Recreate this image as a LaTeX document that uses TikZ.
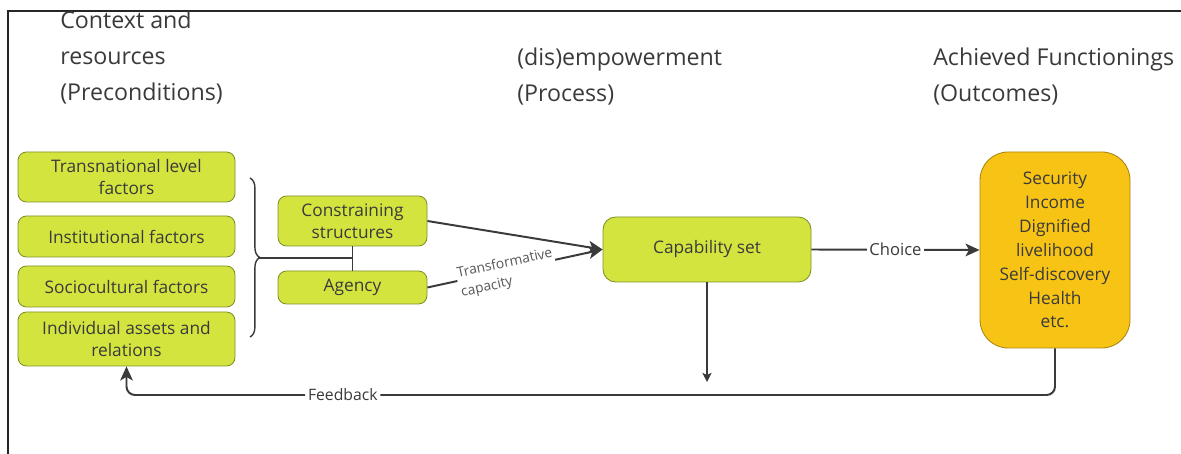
\documentclass[tikz,border=0pt]{standalone}
\usepackage{fontspec}
\setmainfont{Open Sans}
\usetikzlibrary{arrows.meta,positioning,decorations.pathreplacing}
\definecolor{capgreen}{HTML}{D4E43F}
\definecolor{capgreenline}{HTML}{7F8F2A}
\definecolor{outamber}{HTML}{F7C415}
\definecolor{outamberline}{HTML}{A8850F}
\definecolor{inkgray}{HTML}{3A3A3A}

\begin{document}
\begin{tikzpicture}[
    factor/.style={rectangle, rounded corners=6pt, draw=capgreenline, fill=capgreen,
                   line width=0.6pt, minimum width=5.425cm, align=center, text=inkgray,
                   inner sep=0pt, font=\fontsize{12.3}{15.6}\selectfont},
    heading/.style={anchor=north west, align=left, inner sep=0pt, text=inkgray,
                    font=\fontsize{16.5}{25.8}\selectfont},
    lbl/.style={fill=white, text=inkgray, inner sep=2pt},
    arr/.style={-{Stealth[length=10pt, width=9pt, inset=2.5pt]}, line width=1.4pt, draw=inkgray},
    thinarr/.style={-{Stealth[length=6.5pt, width=6.5pt, inset=1.5pt]}, line width=0.8pt, draw=inkgray}
  ]

  \useasboundingbox (0,0) rectangle (29.525,11.35);

  % ---- Frame (left and top edges only) ----
  \draw[line width=1.8pt, black!85] (0.2,0) -- (0.2,11.075) -- (29.525,11.075);

  % ---- Column headings ----
  \node[heading] (hpre) at (1.5,11.09) {Context and\\resources\\(Preconditions)};
  \node[heading] (hproc) at (12.925,10.17) {(dis)empowerment\\(Process)};
  \node[heading] (hout) at (23.325,10.17) {Achieved Functionings\\(Outcomes)};

  % ---- Preconditions: four factor boxes ----
  \node[factor, minimum height=1.25cm]  (trans) at (3.1625,6.925)  {Transnational level\\factors};
  \node[factor, minimum height=1.025cm] (inst)  at (3.1625,5.4375) {Institutional factors};
  \node[factor, minimum height=1.025cm] (socio) at (3.1625,4.1875) {Sociocultural factors};
  \node[factor, minimum height=1.35cm]  (indiv) at (3.1625,2.875)  {Individual assets and\\relations};

  % ---- Brace grouping the factors ----
  \draw[line width=1pt, inkgray, decorate, decoration={brace, amplitude=7pt}]
    (6.25,6.9) -- (6.25,2.925);
  \coordinate (bracetip) at (6.46,4.9);

  % ---- Process: structures and agency ----
  \node[factor, minimum width=3.725cm, minimum height=1.25cm]
    (cons) at (8.8125,5.825) {Constraining\\structures};
  \node[factor, minimum width=3.725cm, minimum height=0.825cm]
    (agency) at (8.8125,4.1625) {Agency};

  \draw[line width=1pt, inkgray] (cons.south) -- (agency.north);
  \draw[line width=1pt, inkgray] (bracetip) -- (bracetip -| cons.south);

  % ---- Capability set ----
  \node[factor, rounded corners=9pt, minimum width=5.2cm, minimum height=1.625cm]
    (capset) at (17.675,5.1125) {Capability set};

  \draw[arr] (cons.east) -- (capset.west);
  \draw[arr] (agency.east) -- node[lbl, sloped, pos=0.45, yshift=-2pt, align=left, inner sep=1pt,
      font=\fontsize{9.8}{13.8}\selectfont, text=inkgray!85] {Transformative\\capacity} (capset.west);

  % ---- Outcomes ----
  \node[rectangle, rounded corners=20pt, draw=outamberline, fill=outamber, line width=0.6pt,
        minimum width=3.75cm, minimum height=4.9cm, align=center, text=inkgray,
        font=\fontsize{12.3}{17}\selectfont]
    (outcome) at (26.375,5.1)
    {Security\\Income\\Dignified\\livelihood\\Self-discovery\\Health\\etc.};

  \draw[arr] (capset.east) -- node[lbl, font=\fontsize{11.8}{14}\selectfont] {Choice} (outcome.west);

  % ---- Downward arrow and feedback loop ----
  \coordinate (capdown) at (17.675,1.8);
  \draw[thinarr] (capset.south) -- (capdown);

  \coordinate (fbrow) at (0,1.475);
  \draw[arr, rounded corners=6pt]
    (outcome.south) -- (outcome.south |- fbrow)
    -- node[lbl, pos=0.767, font=\fontsize{11.2}{13}\selectfont] {Feedback} (indiv.south |- fbrow)
    -- (indiv.south);

\end{tikzpicture}
\end{document}
